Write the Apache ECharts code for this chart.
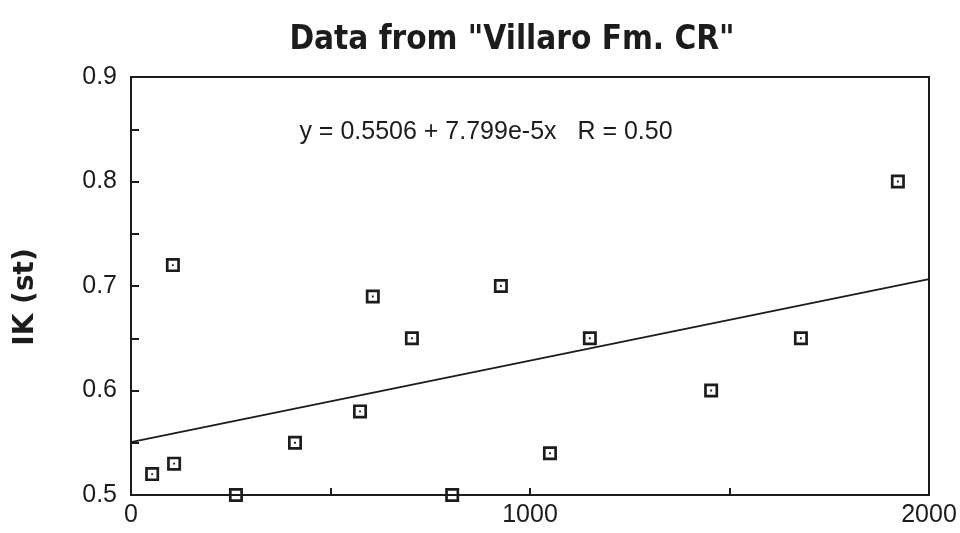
<!DOCTYPE html>
<html>
<head>
<meta charset="utf-8">
<script src="https://cdn.jsdelivr.net/npm/echarts@6/dist/echarts.min.js"></script>
<style>
  html, body { margin: 0; padding: 0; background: #fff; }
  #chart { width: 960px; height: 533px; }
</style>
</head>
<body>
<div id="chart"></div>
<script>
// depth (x) vs IK (st) (y)
const depthValues = [53, 108, 105, 263, 411, 574, 606, 704, 805, 927, 1050, 1150, 1454, 1679, 1922];
const ikValues = [0.52, 0.53, 0.72, 0.50, 0.55, 0.58, 0.69, 0.65, 0.50, 0.70, 0.54, 0.65, 0.60, 0.65, 0.80];

// fit as printed on the chart
const fitIntercept = 0.5506;
const fitSlope = 7.799e-5;
const fitLabel = 'y = 0.5506 + 7.799e-5x   R = 0.50';
const xRange = [0, 2000];

const points = depthValues.map((x, i) => [x, ikValues[i]]);
const fitLine = xRange.map((x) => [x, fitIntercept + fitSlope * x]);

// square outline with a dot in the middle
const boxSymbol = 'path://M0 0H12V12H0Z M2.3 2.3V9.7H9.7V2.3Z M5.2 5.2H6.8V6.8H5.2Z';

const ink = '#1c1c1c';
const chart = echarts.init(document.getElementById('chart'));

chart.setOption({
  backgroundColor: '#fff',
  animation: false,
  title: [
    {
      text: 'Data from "Villaro Fm. CR"',
      left: 507,
      top: 19,
      textAlign: 'center',
      textStyle: {
        fontFamily: '"Liberation Sans Narrow", "DejaVu Sans Condensed", sans-serif',
        fontWeight: 'bold',
        fontSize: 33,
        color: ink,
      },
    },
    {
      text: fitLabel,
      left: 481,
      top: 115,
      textAlign: 'center',
      textStyle: {
        fontFamily: 'Liberation Sans',
        fontWeight: 'normal',
        fontSize: 25,
        color: ink,
      },
    },
  ],
  grid: {
    left: 131,
    right: 31,
    top: 77,
    bottom: 38,
    show: true,
    borderColor: ink,
    borderWidth: 2,
    backgroundColor: 'transparent',
  },
  xAxis: {
    type: 'value',
    min: 0,
    max: 2000,
    interval: 500,
    axisLine: { show: true, onZero: false, lineStyle: { color: ink, width: 2 } },
    axisTick: { show: true, inside: true, length: 7, lineStyle: { color: ink, width: 2 } },
    splitLine: { show: false },
    axisLabel: {
      margin: 8,
      color: ink,
      fontFamily: 'Liberation Sans',
      fontSize: 25,
      formatter: (v) => (v % 1000 === 0 ? String(v) : ''),
    },
  },
  yAxis: {
    type: 'value',
    min: 0.5,
    max: 0.9,
    interval: 0.05,
    name: 'IK (st)',
    nameLocation: 'middle',
    nameGap: 91,
    nameTextStyle: {
      fontFamily: 'DejaVu Sans',
      fontWeight: 'bold',
      fontSize: 28,
      color: ink,
      padding: [0, 22, 0, 0],
    },
    axisLine: { show: true, lineStyle: { color: ink, width: 2 } },
    axisTick: { show: true, inside: true, length: 8, lineStyle: { color: ink, width: 2 } },
    splitLine: { show: false },
    axisLabel: {
      margin: 14,
      color: ink,
      fontFamily: 'Liberation Sans',
      fontSize: 25,
      formatter: (v) => (Math.round(v * 100) % 10 === 0 ? v.toFixed(1) : ''),
    },
  },
  series: [
    {
      type: 'line',
      data: fitLine,
      showSymbol: false,
      lineStyle: { color: ink, width: 2 },
      silent: true,
      z: 2,
    },
    {
      type: 'scatter',
      data: points,
      symbol: boxSymbol,
      symbolSize: 14,
      itemStyle: { color: ink, opacity: 1 },
      z: 3,
    },
  ],
});
</script>
</body>
</html>
